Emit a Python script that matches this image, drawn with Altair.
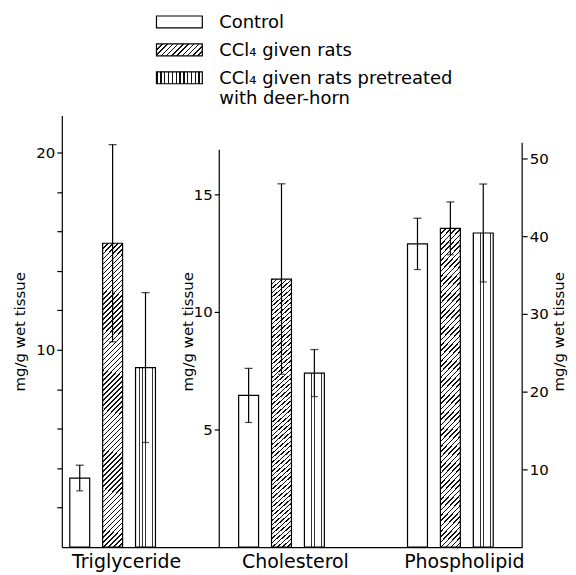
import altair as alt
import pandas as pd

# ---------------- data ----------------
lipids = ["Triglyceride", "Cholesterol", "Phospholipid"]
series = ["Control", "CCl₄ given rats", "CCl₄ given rats pretreated with deer-horn"]
legend_labels = ["Control", "CCl₄ given rats", "CCl₄ given rats pretreated\nwith deer-horn"]

tg_mean = [3.5, 15.4, 9.1]
tg_err = [0.65, 5.0, 3.8]
ch_mean = [6.45, 11.4, 7.4]
ch_err = [1.15, 4.05, 1.0]
ph_mean = [39.0, 41.0, 40.4]
ph_err = [3.3, 3.4, 6.3]

tg_ticks = [2, 4, 6, 8, 10, 12, 14, 16, 18, 20]
ch_ticks = [5, 10, 15]
ph_ticks = [10, 20, 30, 40, 50]

# ---------------- layout / style ----------------
W, H = 462, 433
FONT = "DejaVu Sans"


def frame(lipid, means, errs):
    return pd.DataFrame({
        "lipid": [lipid] * len(series),
        "series": series,
        "mean": means,
        "lo": [m - e for m, e in zip(means, errs)],
        "hi": [m + e for m, e in zip(means, errs)],
    })


def stripes(n, frac, color, x1, y1, x2, y2):
    stops = []
    for k in range(n):
        s = k / n
        e = s + frac / n
        stops += [
            alt.GradientStop(color="white", offset=s),
            alt.GradientStop(color=color, offset=s),
            alt.GradientStop(color=color, offset=e),
            alt.GradientStop(color="white", offset=e),
        ]
    return alt.LinearGradient(gradient="linear", stops=stops, x1=x1, y1=y1, x2=x2, y2=y2)


def diag(ratio, n, frac=0.3, color="#111111"):
    b = (ratio + 1) / (ratio ** 2 + 1)
    a = ratio * b
    return stripes(n, frac, color, 0, 0, a, b)


bar_diag = diag(20 / 300, 64, 0.3)
bar_vert = stripes(6, 0.2, "#333333", 0, 0, 1, 0)
leg_diag = diag(46 / 12, 11, 0.3)
leg_vert = stripes(12, 0.35, "#111111", 0, 0, 1, 0)
fills = ["white", bar_diag, bar_vert]
leg_fills = ["white", leg_diag, leg_vert]

xscale = alt.Scale(domain=lipids, paddingInner=0.41, paddingOuter=0.068, align=0.043)
xoscale = alt.Scale(domain=series, paddingInner=0.394, paddingOuter=0.212)
xaxis = alt.Axis(title=None, ticks=False, labelFontSize=19, labelPadding=5, labelOffset=14,
                 labelAngle=0, domainColor="black", domainWidth=1.2, labelColor="black",
                 labelFont=FONT)

common_axis = dict(title="mg/g wet tissue", titleFontSize=15, titleFontWeight="normal",
                   titleColor="black", titleFont=FONT, labelFontSize=15, labelColor="black",
                   labelFont=FONT, tickColor="black", tickWidth=1.2, tickSize=5,
                   domainColor="black", domainWidth=1.2, grid=False)

tg_axis = alt.Axis(orient="left", values=tg_ticks,
                   labelExpr="datum.value % 10 == 0 ? datum.label : ''",
                   titleX=-34, **common_axis)
ch_axis = alt.Axis(orient="left", offset=-158, values=ch_ticks, domain=False,
                   titleX=-24, **common_axis)
ph_axis = alt.Axis(orient="right", values=ph_ticks, domain=False, titleAngle=270,
                   titleX=44, **common_axis)


def group_layer(df, dom, axis, line_top=None, line_x=None):
    sc = alt.Scale(domain=[0, dom], nice=False, zero=True)
    base = alt.Chart(df).encode(
        x=alt.X("lipid:N", scale=xscale, axis=xaxis, sort=lipids),
        xOffset=alt.XOffset("series:N", scale=xoscale, sort=series),
    )
    layers = []
    for s, f in zip(series, fills):
        layers.append(
            base.transform_filter(alt.datum.series == s)
            .mark_bar(fill=f, stroke="black", strokeWidth=1.2)
            .encode(y=alt.Y("mean:Q", scale=sc, axis=axis))
        )
    layers.append(base.mark_rule(color="black", strokeWidth=1.2)
                  .encode(y=alt.Y("lo:Q", scale=sc, axis=axis), y2="hi:Q"))
    layers.append(base.mark_tick(color="black", thickness=1.3, size=8)
                  .encode(y=alt.Y("hi:Q", scale=sc, axis=axis)))
    layers.append(base.mark_tick(color="black", thickness=1.2, size=7)
                  .encode(y=alt.Y("lo:Q", scale=sc, axis=axis)))
    if line_top is not None:
        layers.append(
            alt.Chart(pd.DataFrame({"v": [0]})).mark_rule(color="black", strokeWidth=1.2)
            .encode(x=alt.value(line_x),
                    y=alt.YDatum(0, scale=sc, axis=axis),
                    y2=alt.Y2Datum(line_top))
        )
    return alt.layer(*layers)


tg = group_layer(frame(lipids[0], tg_mean, tg_err), 21.87, tg_axis)
ch = group_layer(frame(lipids[1], ch_mean, ch_err), 18.35, ch_axis, line_top=16.9, line_x=158)
ph = group_layer(frame(lipids[2], ph_mean, ph_err), 55.5, ph_axis, line_top=52, line_x=W)

# ---------------- legend ----------------
row_c = [-94, -66, -38]
legend_layers = []
for lab, f, c in zip(legend_labels, leg_fills, row_c):
    d = pd.DataFrame({"label": [lab]})
    legend_layers.append(
        alt.Chart(d).mark_rect(fill=f, stroke="black", strokeWidth=1.2)
        .encode(x=alt.value(95), x2=alt.value(141), y=alt.value(c - 6), y2=alt.value(c + 6))
    )
    legend_layers.append(
        alt.Chart(d).mark_text(align="left", baseline="alphabetic", fontSize=18, font=FONT,
                               color="black", lineBreak="\n", lineHeight=20)
        .encode(text="label:N", x=alt.value(158), y=alt.value(c + 6))
    )

chart = (
    alt.layer(tg, ch, ph, *legend_layers)
    .resolve_scale(y="independent")
    .properties(width=W, height=H,
                autosize=alt.AutoSizeParams(type="none"),
                padding={"left": 54, "top": 107, "right": 46, "bottom": 24})
    .configure(font=FONT)
    .configure_view(stroke="transparent")
)

chart.save("out.html", embed_options={"renderer": "svg", "actions": False})
